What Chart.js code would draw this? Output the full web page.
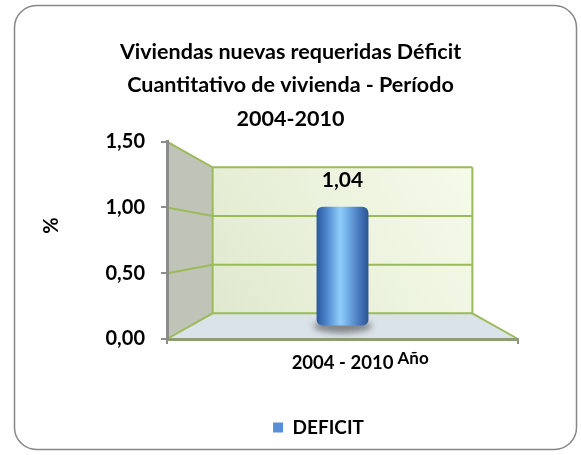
<!DOCTYPE html>
<html>
<head>
<meta charset="utf-8">
<script src="https://cdn.jsdelivr.net/npm/chart.js@4.4.1/dist/chart.umd.min.js"></script>
<style>
  html, body { margin: 0; padding: 0; background: #fff; }
  canvas { display: block; }
</style>
</head>
<body>
<canvas id="chart" width="581" height="455"></canvas>
<script>
const categories = ['2004 - 2010'];
const deficitValues = [1.04];
const seriesName = 'DEFICIT';
const titleLines = ['Viviendas nuevas requeridas Déficit', 'Cuantitativo de vivienda - Período', '2004-2010'];
const yAxisLabel = '%';
const xAxisLabel = 'Año';
const yMin = 0, yMax = 1.5, yStep = 0.5;

const FONT = 'Lato';
const GREEN = '#9bbb59';
const BACK_DEPTH = 0.74;   // back wall as a fraction of the front plane
const BAR_DEPTH = 0.87;    // the cylinder sits half way in
const BAR_W = 59;

function fmt(v) {
    return v.toFixed(2).replace('.', ',');
}

function project(chart, x, y, k) {
    const a = chart.chartArea;
    const cx = (a.left + a.right) / 2, cy = (a.top + a.bottom) / 2;
    return [cx + (x - cx) * k, cy + (y - cy) * k];
}

function poly(ctx, pts) {
    ctx.beginPath();
    pts.forEach((p, i) => i ? ctx.lineTo(p[0], p[1]) : ctx.moveTo(p[0], p[1]));
    ctx.closePath();
}

const wallsPlugin = {
    id: 'walls',
    beforeDraw(chart) {
        const ctx = chart.ctx, a = chart.chartArea, ys = chart.scales.y;
        ctx.save();

        // rounded frame of the chart
        ctx.strokeStyle = '#868686';
        ctx.lineWidth = 1.5;
        ctx.beginPath();
        ctx.roundRect(14.5, 5.5, 562, 444, 22);
        ctx.stroke();

        const bTL = project(chart, a.left, a.top, BACK_DEPTH);
        const bTR = project(chart, a.right, a.top, BACK_DEPTH);
        const bBL = project(chart, a.left, a.bottom, BACK_DEPTH);
        const bBR = project(chart, a.right, a.bottom, BACK_DEPTH);

        // floor
        poly(ctx, [[a.left, a.bottom], [a.right, a.bottom], bBR, bBL]);
        ctx.fillStyle = '#dbe3ea';
        ctx.fill();

        // side wall
        poly(ctx, [[a.left, a.top], bTL, bBL, [a.left, a.bottom]]);
        ctx.fillStyle = '#c0c3b8';
        ctx.fill();

        // back wall
        poly(ctx, [bTL, bTR, bBR, bBL]);
        const g = ctx.createLinearGradient(bBL[0], bBL[1], bTR[0], bTR[1]);
        g.addColorStop(0, '#e0e9cf');
        g.addColorStop(1, '#f6fbea');
        ctx.fillStyle = g;
        ctx.fill();

        // grid lines running along side and back walls
        ctx.strokeStyle = GREEN;
        ctx.lineWidth = 2;
        for (let v = yMin; v <= yMax + 1e-9; v += yStep) {
            const py = ys.getPixelForValue(v);
            const l = project(chart, a.left, py, BACK_DEPTH);
            const r = project(chart, a.right, py, BACK_DEPTH);
            ctx.beginPath();
            ctx.moveTo(a.left, py);
            ctx.lineTo(l[0], l[1]);
            ctx.lineTo(r[0], r[1]);
            ctx.stroke();
        }
        ctx.beginPath();
        ctx.moveTo(bTL[0], bTL[1]); ctx.lineTo(bBL[0], bBL[1]);
        ctx.moveTo(bTR[0], bTR[1]); ctx.lineTo(bBR[0], bBR[1]);
        ctx.lineTo(a.right, a.bottom);
        ctx.stroke();

        ctx.restore();
    }
};

const depthPlugin = {
    id: 'depth',
    beforeDatasetsDraw(chart) {
        const ctx = chart.ctx, a = chart.chartArea;
        const cx = (a.left + a.right) / 2, cy = (a.top + a.bottom) / 2;
        ctx.save();
        ctx.translate(cx, cy);
        ctx.scale(BAR_DEPTH, BAR_DEPTH);
        ctx.translate(-cx, -cy);

        // soft shadow under the cylinder
        chart.getDatasetMeta(0).data.forEach(el => {
            ctx.save();
            ctx.filter = 'blur(3px)';
            ctx.fillStyle = 'rgba(70,70,70,0.6)';
            ctx.beginPath();
            ctx.ellipse(el.x, el.base + 1, el.width / 2 + 4, 8, 0, 0, Math.PI * 2);
            ctx.fill();
            ctx.restore();
        });
    },
    afterDatasetsDraw(chart) {
        const ctx = chart.ctx;
        ctx.restore();

        ctx.save();
        ctx.fillStyle = '#000';
        ctx.font = `bold 21px ${FONT}`;
        ctx.textAlign = 'center';
        ctx.textBaseline = 'middle';
        chart.getDatasetMeta(0).data.forEach((el, i) => {
            const p = project(chart, el.x, el.y, BAR_DEPTH);
            ctx.fillText(fmt(deficitValues[i]), p[0], p[1] - 27);
        });
        ctx.restore();
    }
};

const axisTextPlugin = {
    id: 'axisText',
    afterLayout(chart) {
        chart.legend.left += 28;
        chart.legend.right += 28;
    },
    afterDraw(chart) {
        const ctx = chart.ctx, a = chart.chartArea;
        ctx.save();
        ctx.fillStyle = '#000';
        ctx.font = `bold 20px ${FONT}`;
        ctx.textAlign = 'center';
        ctx.textBaseline = 'middle';
        ctx.translate(52, a.top + 84);
        ctx.rotate(-Math.PI / 2);
        ctx.fillText(yAxisLabel, 0, 0);
        ctx.restore();

        ctx.save();
        ctx.fillStyle = '#000';
        ctx.font = `bold 17px ${FONT}`;
        ctx.textAlign = 'left';
        ctx.textBaseline = 'middle';
        ctx.fillText(xAxisLabel, (a.left + a.right) / 2 + 55, a.bottom + 20);
        ctx.restore();
    }
};

function cylinderFill(c) {
    const chart = c.chart;
    if (!chart.chartArea) return '#4f81bd';
    const x = chart.scales.x.getPixelForValue(c.dataIndex);
    const g = chart.ctx.createLinearGradient(x - BAR_W / 2, 0, x + BAR_W / 2, 0);
    g.addColorStop(0, '#2b5a9b');
    g.addColorStop(0.18, '#4a82cb');
    g.addColorStop(0.45, '#8fcdfa');
    g.addColorStop(0.55, '#7cbaf0');
    g.addColorStop(0.82, '#4879be');
    g.addColorStop(1, '#2a5593');
    return g;
}

const chart = new Chart(document.getElementById('chart'), {
    type: 'bar',
    data: {
        labels: categories,
        datasets: [{
            label: seriesName,
            data: deficitValues,
            backgroundColor: cylinderFill,
            barThickness: BAR_W,
            borderRadius: 7,
            borderSkipped: false
        }]
    },
    options: {
        responsive: false,
        animation: false,
        layout: { padding: { left: 14, right: 14, top: 6, bottom: 8 } },
        plugins: {
            title: {
                display: true,
                text: titleLines,
                color: '#000',
                font: { family: FONT, weight: 'bold', size: 21.5, lineHeight: 1.56 },
                padding: { top: 29, bottom: 6 }
            },
            legend: {
                position: 'bottom',
                labels: {
                    color: '#000',
                    font: { family: FONT, weight: 'bold', size: 19 },
                    boxWidth: 10,
                    boxHeight: 10,
                    padding: 10,
                    generateLabels: c => Chart.defaults.plugins.legend.labels.generateLabels(c)
                        .map(l => Object.assign(l, { fillStyle: '#5a8fd6', strokeStyle: '#5a8fd6', lineWidth: 0 }))
                }
            },
            tooltip: { enabled: false }
        },
        scales: {
            x: {
                ticks: { color: '#000', font: { family: FONT, weight: 'bold', size: 18.5 }, padding: 8 },
                grid: { drawOnChartArea: false, tickLength: 5, color: '#8c8c8c', lineWidth: 2 },
                border: { color: '#8e9c78', width: 3 },
                afterFit: s => { s.height = 69; }
            },
            y: {
                min: yMin,
                max: yMax,
                ticks: { stepSize: yStep, callback: v => fmt(v), color: '#000', font: { family: FONT, weight: 'bold', size: 20 }, padding: 16 },
                grid: { drawOnChartArea: false, tickLength: 6, color: '#8c8c8c', lineWidth: 2 },
                border: { color: '#8c8c8c', width: 3 },
                afterFit: s => { s.width = 153; }
            },
            yRight: {
                position: 'right',
                display: true,
                ticks: { display: false },
                grid: { display: false },
                border: { display: false },
                afterFit: s => { s.width = 49; }
            }
        }
    },
    plugins: [wallsPlugin, depthPlugin, axisTextPlugin]
});
</script>
</body>
</html>
